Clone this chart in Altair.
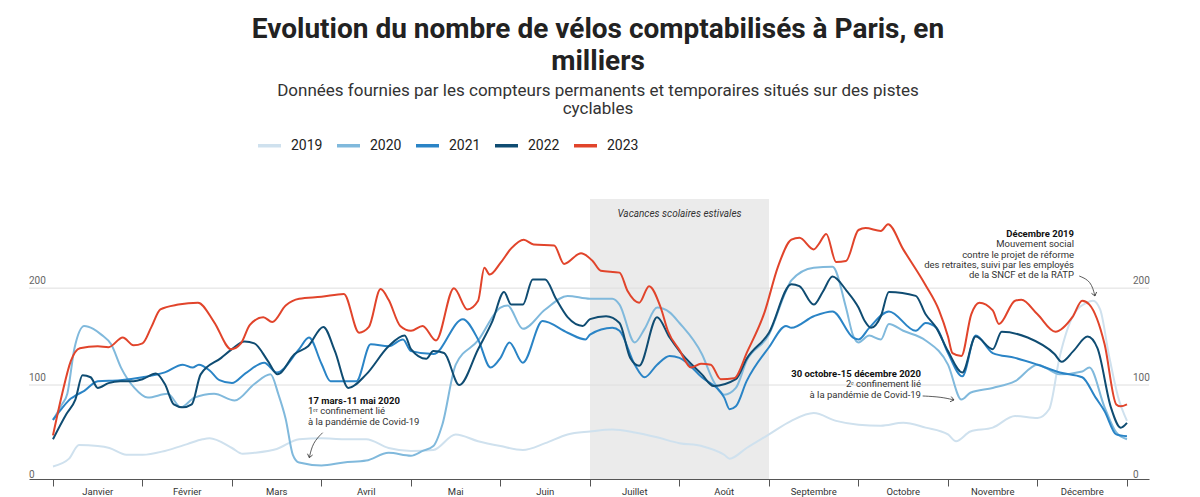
import altair as alt
import pandas as pd

# ---------------- data (values in thousands, x in months from 1 Jan) ----------------
MONTHS = ["Janvier", "Février", "Mars", "Avril", "Mai", "Juin", "Juillet",
          "Août", "Septembre", "Octobre", "Novembre", "Décembre"]
YEARS = ["2019", "2020", "2021", "2022", "2023"]
COLORS = ["#cfe1ee", "#80b9dc", "#2a84c6", "#0f4c72", "#e1442b"]

M19 = [0.0, 0.18, 0.29, 0.5, 0.63, 0.82, 1.0, 1.25, 1.5, 1.67, 1.75, 2.0, 2.12, 2.25, 2.5, 2.75,
       3.0, 3.25, 3.5, 3.75, 4.0, 4.25, 4.5, 4.75, 5.0, 5.25, 5.5, 5.75, 6.0, 6.25, 6.5, 6.75,
       7.0, 7.25, 7.5, 7.56, 7.75, 8.0, 8.25, 8.5, 8.75, 9.0, 9.25, 9.5, 9.75, 10.0, 10.09,
       10.25, 10.5, 10.75, 11.0, 11.13, 11.25, 11.4, 11.55, 11.62, 11.7, 11.8, 11.9, 12.0]
V19 = [16, 24, 38, 37, 35, 28, 28, 32, 39, 44, 45, 35, 29, 30, 34, 44,
       45, 44, 44, 35, 32, 33, 49, 42, 37, 33, 40, 49, 52, 54, 51, 46,
       40, 37, 28, 24, 35, 49, 63, 71, 63, 59, 58, 61, 56, 49, 42,
       52, 56, 68, 66, 75, 130, 172, 185, 187, 178, 130, 88, 63]

M20 = [0.0, 0.1, 0.16, 0.24, 0.35, 0.45, 0.54, 0.65, 0.76, 0.91, 1.06, 1.28, 1.43, 1.58, 1.8,
       2.03, 2.25, 2.43, 2.52, 2.6, 2.68, 2.75, 3.0, 3.25, 3.5, 3.75, 4.0, 4.13, 4.25, 4.35,
       4.5, 4.75, 5.0, 5.08, 5.25, 5.5, 5.75, 6.0, 6.25, 6.33, 6.5, 6.61, 6.75, 6.89, 7.0,
       7.25, 7.38, 7.5, 7.63, 7.75, 8.0, 8.19, 8.25, 8.5, 8.71, 8.86, 8.94, 9.0, 9.12, 9.25,
       9.34, 9.5, 9.75, 10.0, 10.15, 10.25, 10.5, 10.75, 11.0, 11.25, 11.5, 11.58, 11.75,
       11.88, 12.0]
V20 = [64, 80, 91, 138, 161, 158, 152, 142, 118, 97, 87, 91, 77, 87, 91,
       84, 101, 111, 90, 65, 28, 20, 17, 20, 22, 30, 27, 32, 37, 59,
       121, 146, 180, 182, 158, 178, 192, 189, 189, 183, 144, 158, 180, 175, 164,
       132, 104, 90, 97, 125, 152, 197, 208, 221, 222, 180, 151, 144, 151, 147,
       163, 156, 146, 121, 85, 92, 97, 104, 121, 111, 114, 118, 77,
       51, 44]

M21 = [0.0, 0.1, 0.2, 0.25, 0.35, 0.5, 0.75, 1.0, 1.25, 1.45, 1.56, 1.63, 1.75, 1.86, 2.0,
       2.15, 2.36, 2.5, 2.75, 2.86, 3.0, 3.1, 3.39, 3.55, 3.75, 3.91, 4.0, 4.25, 4.58, 4.75,
       4.89, 5.0, 5.1, 5.25, 5.47, 5.75, 5.95, 6.0, 6.25, 6.33, 6.5, 6.61, 6.75, 6.89, 7.0,
       7.25, 7.5, 7.56, 7.63, 7.75, 8.0, 8.19, 8.25, 8.5, 8.71, 8.94, 9.0, 9.12, 9.34, 9.64,
       9.75, 9.87, 10.0, 10.16, 10.31, 10.5, 10.75, 11.0, 11.25, 11.5, 11.65, 11.75, 11.88,
       12.0]
V21 = [64, 76, 86, 89, 94, 104, 105, 108, 113, 121, 118, 121, 115, 105, 102,
       112, 123, 113, 137, 149, 122, 104, 104, 142, 140, 147, 135, 132, 168, 147,
       118, 128, 144, 123, 166, 154, 147, 152, 159, 156, 121, 108, 121, 130, 128,
       108, 87, 75, 78, 104, 139, 161, 159, 171, 176, 149, 147, 159, 176, 156,
       164, 159, 133, 109, 151, 133, 128, 121, 113, 108, 87, 73, 49,
       47]

M22 = [0.0, 0.15, 0.25, 0.33, 0.42, 0.5, 0.62, 0.75, 0.9, 1.0, 1.15, 1.25, 1.35, 1.45, 1.55,
       1.65, 1.88, 2.0, 2.14, 2.25, 2.4, 2.51, 2.7, 2.85, 3.02, 3.15, 3.3, 3.5, 3.75, 3.93,
       4.0, 4.17, 4.25, 4.37, 4.54, 4.75, 4.91, 5.04, 5.12, 5.25, 5.36, 5.5, 5.62, 5.75,
       5.92, 6.0, 6.18, 6.33, 6.45, 6.55, 6.75, 6.89, 7.0, 7.25, 7.38, 7.63, 7.75, 8.0, 8.25,
       8.34, 8.5, 8.6, 8.71, 8.87, 9.0, 9.07, 9.14, 9.25, 9.34, 9.64, 9.75, 9.87, 10.0,
       10.16, 10.31, 10.5, 10.6, 10.89, 11.19, 11.27, 11.4, 11.56, 11.67, 11.82, 11.93, 12.0]
V22 = [44, 70, 85, 110, 108, 97, 102, 104, 104, 106, 112, 101, 80, 77, 80,
       111, 128, 137, 145, 143, 125, 111, 132, 140, 160, 135, 97, 111, 140, 151,
       137, 127, 135, 133, 100, 137, 166, 196, 183, 183, 209, 209, 189, 170,
       161, 168, 171, 164, 128, 120, 170, 149, 135, 111, 99, 106, 127, 154, 204,
       202, 183, 196, 212, 197, 180, 166, 159, 171, 196, 192, 173, 159, 135,
       113, 150, 137, 155, 149, 132, 124, 135, 150, 138, 77, 56, 61]

M23 = [0.0, 0.1, 0.2, 0.3, 0.5, 0.62, 0.78, 0.9, 1.0, 1.1, 1.2, 1.4, 1.62, 1.8, 1.99, 2.1,
       2.2, 2.35, 2.45, 2.6, 2.75, 3.0, 3.25, 3.42, 3.53, 3.66, 3.75, 3.88, 4.0, 4.13, 4.28,
       4.48, 4.63, 4.75, 4.82, 4.88, 5.0, 5.12, 5.26, 5.37, 5.6, 5.71, 5.9, 6.03, 6.12, 6.33,
       6.42, 6.55, 6.66, 6.79, 6.87, 7.0, 7.13, 7.24, 7.35, 7.46, 7.61, 7.76, 7.95, 8.1, 8.25,
       8.34, 8.5, 8.56, 8.64, 8.75, 8.86, 9.0, 9.08, 9.25, 9.33, 9.5, 9.75, 9.9, 10.0, 10.05,
       10.15, 10.26, 10.35, 10.5, 10.57, 10.75, 10.82, 11.0, 11.2, 11.39, 11.5, 11.58, 11.75,
       11.88, 11.93, 12.0]
V23 = [48, 90, 125, 138, 140, 139, 149, 141, 143, 160, 178, 183, 185, 165, 137, 143,
       162, 170, 165, 182, 189, 191, 194, 154, 160, 199, 188, 161, 156, 161, 146,
       200, 178, 187, 221, 214, 226, 241, 250, 245, 244, 225, 236, 228, 218, 216,
       197, 185, 202, 180, 156, 136, 118, 122, 121, 106, 107, 135, 175, 222, 250,
       252, 240, 246, 256, 227, 228, 260, 262, 259, 266, 240, 203, 177, 150, 133,
       130, 173, 185, 177, 163, 187, 188, 173, 155, 170, 187, 183, 142,
       80, 78, 80]

SERIES = {"2019": (M19, V19), "2020": (M20, V20), "2021": (M21, V21),
          "2022": (M22, V22), "2023": (M23, V23)}

GRID_VALUES = [100, 200]
TICK_LABELS = [0, 100, 200]

# annotations (position in months / thousands)
ANN1_TITLE = "17 mars-11 mai 2020"
ANN1_LINES = ["1ᵉʳ confinement lié", "à la pandémie de Covid-19"]
ANN2_TITLE = "30 octobre-15 décembre 2020"
ANN2_LINES = ["2ᵉ confinement lié", "à la pandémie de Covid-19"]
ANN3_TITLE = "Décembre 2019"
ANN3_LINES = ["Mouvement social", "contre le projet de réforme",
              "des retraites, suivi par les employés", "de la SNCF et de la RATP"]
ARROW_M = {"a1": [3.013, 2.902, 2.864], "a2": [9.717, 9.922, 10.067], "a3": [11.467, 11.598, 11.642]}
ARROW_V = {"a1": [50.8, 40.5, 25.0], "a2": [88.7, 87.7, 84.6], "a3": [212.5, 207.4, 191.9]}
ARROW_ANGLE = {"a1": 13, "a2": 283, "a3": 345}

# ---------------- tables ----------------
rows = []
for yr, (ms, vs) in SERIES.items():
    for m, v in zip(ms, vs):
        rows.append({"annee": yr, "mois": m, "valeur": v})
df = pd.DataFrame(rows)

W, H = 1120, 280
XDOM = [-0.268, 12.246]
YDOM = [3, 292]
FONT = "Roboto"

xs = alt.Scale(domain=XDOM, nice=False, zero=False)
ys = alt.Scale(domain=YDOM, nice=False, zero=False)
xax = alt.Axis(values=list(range(13)), labels=False, title=None, grid=False,
               tickSize=7, tickColor="#555", domainColor="#555", ticks=True, domain=True)


def X(f):
    return alt.X(f, scale=xs, axis=xax)


def Y(f):
    return alt.Y(f, scale=ys, axis=None)


vac = pd.DataFrame({"debut": [6.0], "fin": [8.0], "milieu": [7.0],
                    "label": ["Vacances scolaires estivales"]})
rect = alt.Chart(vac).mark_rect(color="#ebebeb").encode(
    x=X("debut:Q"), x2="fin:Q", y=alt.value(0), y2=alt.value(H))
vac_text = alt.Chart(vac).mark_text(font=FONT, fontSize=10, fontStyle="italic", color="#333",
                                    baseline="middle").encode(
    x=X("milieu:Q"), y=alt.value(15), text="label:N")

grid = alt.Chart(pd.DataFrame({"v": GRID_VALUES})).mark_rule(color="#dedede", strokeWidth=1).encode(
    y=Y("v:Q"), x=alt.value(0), x2=alt.value(W))

tick_df = pd.DataFrame({"v": TICK_LABELS, "t": [str(t) for t in TICK_LABELS]})
ylab_l = alt.Chart(tick_df).mark_text(font=FONT, fontSize=10, color="#666", align="left",
                                      baseline="alphabetic", dy=-4).encode(
    y=Y("v:Q"), x=alt.value(0), text="t:N")
ylab_r = alt.Chart(tick_df).mark_text(font=FONT, fontSize=10, color="#666", align="left",
                                      baseline="alphabetic", dy=-4).encode(
    y=Y("v:Q"), x=alt.value(W - 16), text="t:N")

lines = alt.Chart(df).mark_line(strokeWidth=2, interpolate="monotone").encode(
    x=X("mois:Q"), y=Y("valeur:Q"),
    color=alt.Color("annee:N", scale=alt.Scale(domain=YEARS, range=COLORS),
                    legend=alt.Legend(orient="none", legendX=227, legendY=-67, direction="horizontal",
                                      title=None, symbolType="stroke", symbolStrokeWidth=3.5,
                                      symbolSize=529, labelFontSize=14, labelFont=FONT,
                                      labelColor="#222", labelOffset=8, columnPadding=7)),
    order="mois:Q")

mdf = pd.DataFrame({"mois": [i + 0.5 for i in range(12)], "nom": MONTHS})
month_text = alt.Chart(mdf).mark_text(font=FONT, fontSize=9.5, color="#333", baseline="middle").encode(
    x=X("mois:Q"), y=alt.value(293), text="nom:N")


def ann_layer(m, v0, lines_, bold, align):
    step = 10.6
    vals = [v0 - i * step for i in range(len(lines_))]
    d = pd.DataFrame({"m": [m] * len(lines_), "v": vals, "t": lines_})
    return alt.Chart(d).mark_text(font=FONT, fontSize=9.5, align=align, baseline="alphabetic",
                                  fontWeight="bold" if bold else "normal",
                                  color="#111" if bold else "#333").encode(
        x=X("m:Q"), y=Y("v:Q"), text="t:N")


ann = [
    ann_layer(2.849, 80.4, [ANN1_TITLE], True, "left"),
    ann_layer(2.849, 80.4 - 10.6, ANN1_LINES, False, "left"),
    ann_layer(9.698, 108.3, [ANN2_TITLE], True, "right"),
    ann_layer(9.698, 108.3 - 10.6, ANN2_LINES, False, "right"),
    ann_layer(11.408, 252.8, [ANN3_TITLE], True, "right"),
    ann_layer(11.408, 252.8 - 10.6, ANN3_LINES, False, "right"),
]

arows = []
heads = []
for k in ARROW_M:
    for i, (m, v) in enumerate(zip(ARROW_M[k], ARROW_V[k])):
        arows.append({"k": k, "i": i, "m": m, "v": v})
    heads.append({"k": k, "m": ARROW_M[k][-1], "v": ARROW_V[k][-1], "a": ARROW_ANGLE[k]})
arrow_lines = alt.Chart(pd.DataFrame(arows)).mark_line(interpolate="basis", color="#333",
                                                      strokeWidth=0.8).encode(
    x=X("m:Q"), y=Y("v:Q"), detail="k:N", order="i:Q")
arrow_heads = alt.Chart(pd.DataFrame(heads)).mark_point(
    shape="M-1,-1.3L0,0L1,-1.3", filled=False, color="#333", strokeWidth=0.8, size=28, opacity=1).encode(
    x=X("m:Q"), y=Y("v:Q"), angle=alt.Angle("a:Q", scale=None))

chart = alt.layer(rect, grid, vac_text, ylab_l, ylab_r, lines, month_text, *ann, arrow_lines, arrow_heads).properties(
    width=W, height=H,
    padding={"left": 20, "top": 8, "right": 5, "bottom": 0},
    title=alt.Title(
        text=["Evolution du nombre de vélos comptabilisés à Paris, en", "milliers"],
        subtitle=["Données fournies par les compteurs permanents et temporaires situés sur des pistes",
                  "cyclables"],
        anchor="middle", dx=9, font=FONT, fontSize=28, fontWeight="bold", color="#222", lineHeight=32,
        subtitleFont=FONT, subtitleFontSize=17, subtitleColor="#333", subtitleLineHeight=18,
        subtitlePadding=7, offset=15)
).configure_view(stroke=None)

chart.save("out.html", embed_options={"renderer": "svg", "actions": False})
